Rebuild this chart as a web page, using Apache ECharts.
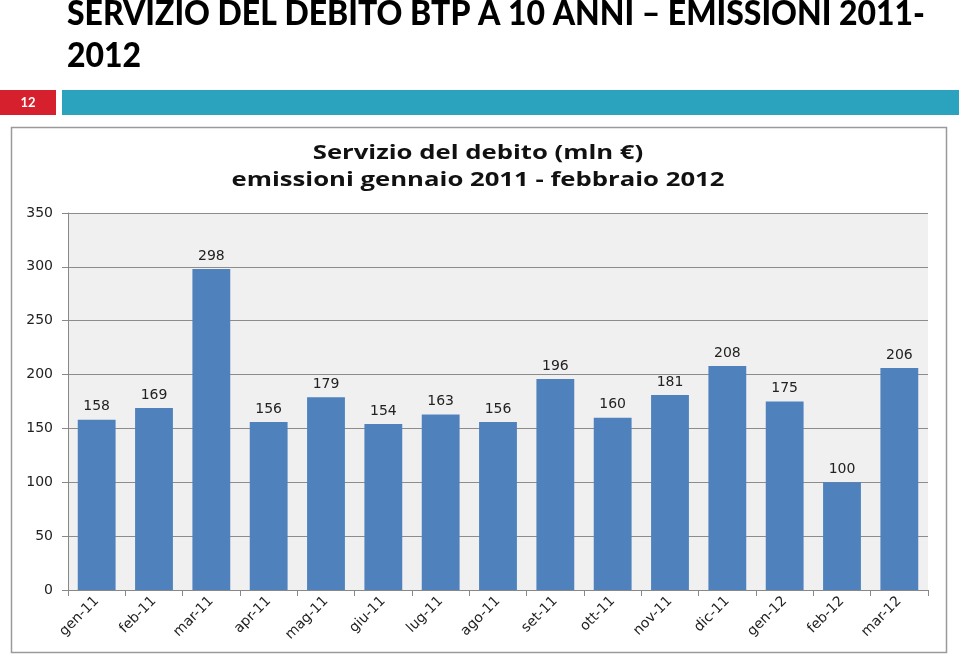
<!DOCTYPE html>
<html>
<head>
<meta charset="utf-8">
<script src="https://cdn.jsdelivr.net/npm/echarts@6/dist/echarts.min.js"></script>
<style>
html,body{margin:0;padding:0;background:#fff;}
#chart{width:959px;height:655px;}
</style>
</head>
<body>
<div id="chart"></div>
<script>
var categories = ['gen-11','feb-11','mar-11','apr-11','mag-11','giu-11','lug-11','ago-11','set-11','ott-11','nov-11','dic-11','gen-12','feb-12','mar-12'];
var values = [158,169,298,156,179,154,163,156,196,160,181,208,175,100,206];
var slideTitle = ['SERVIZIO DEL DEBITO BTP A 10 ANNI \u2013 EMISSIONI 2011-', '2012'];
var slideNumber = '12';
var chartTitle = 'Servizio del debito (mln \u20ac)';
var chartSubtitle = 'emissioni gennaio 2011 - febbraio 2012';

var titleFont = '900 35px Lato';
var chartTitleFont = 'bold 20px "Open Sans"';
var cv = document.createElement('canvas').getContext('2d');
cv.font = titleFont;
var sx = 858 / cv.measureText(slideTitle[0]).width;
cv.font = chartTitleFont;
var csx = 493 / cv.measureText(chartSubtitle).width;

var chart = echarts.init(document.getElementById('chart'), null, {renderer:'canvas'});
chart.setOption({
  animation: false,
  backgroundColor: '#ffffff',
  graphic: [
    {type:'text', x: 67, y: -4, scaleX: sx, style:{text: slideTitle[0], font: titleFont, fill:'#000', verticalAlign:'top'}},
    {type:'text', x: 67, y: 38, scaleX: sx, style:{text: slideTitle[1], font: titleFont, fill:'#000', verticalAlign:'top'}},
    {type:'rect', shape:{x:0, y:90, width:56, height:25}, style:{fill:'#d7202e'}},
    {type:'text', x: 28, y: 103, style:{text: slideNumber, font:'bold 13px Lato', fill:'#fff', align:'center', verticalAlign:'middle'}},
    {type:'rect', shape:{x:62, y:90, width:897, height:25}, style:{fill:'#2ba3bf'}},
    {type:'rect', shape:{x:11.5, y:127.5, width:935, height:525}, style:{fill:'none', stroke:'#9a9a9a', lineWidth:1.5}},
    {type:'text', x: 478, y: 153, scaleX: csx, style:{text: chartTitle, font: chartTitleFont, fill:'#111', align:'center', verticalAlign:'middle'}},
    {type:'text', x: 478, y: 180, scaleX: csx, style:{text: chartSubtitle, font: chartTitleFont, fill:'#111', align:'center', verticalAlign:'middle'}}
  ],
  grid: {left: 68, right: 31, top: 213, bottom: 65, show: true, backgroundColor: '#f0f0f0', borderWidth: 0, containLabel: false},
  xAxis: {
    type: 'category', data: categories,
    axisLine: {show: true, lineStyle: {color: '#888', width: 1}},
    axisTick: {show: true, length: 6, lineStyle: {color: '#888'}},
    axisLabel: {rotate: 45, fontFamily: 'DejaVu Sans', fontSize: 14, color: '#222', margin: 9, interval: 0}
  },
  yAxis: {
    type: 'value', min: 0, max: 350, interval: 50,
    axisLine: {show: true, lineStyle: {color: '#888', width: 1}},
    axisTick: {show: true, length: 6, lineStyle: {color: '#888'}},
    axisLabel: {fontFamily: 'DejaVu Sans', fontSize: 14, color: '#222', margin: 15},
    splitLine: {show: true, lineStyle: {color: '#8c8c8c', width: 1}}
  },
  series: [{
    type: 'bar', data: values, barCategoryGap: '34%',
    itemStyle: {color: '#4f81bd'},
    label: {show: true, position: 'top', distance: 6, fontFamily: 'DejaVu Sans', fontSize: 14, color: '#222'}
  }]
});
</script>
</body>
</html>
